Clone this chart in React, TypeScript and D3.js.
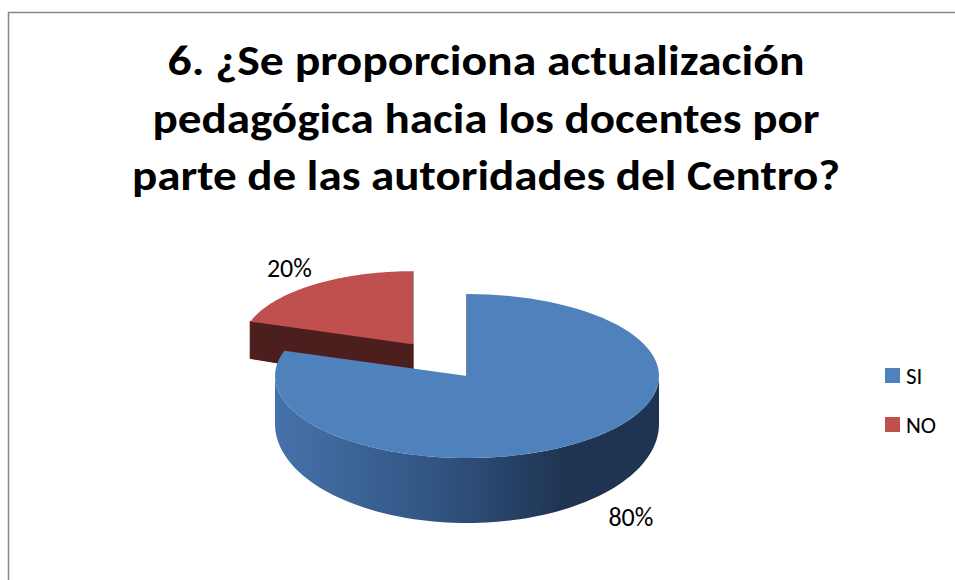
import * as d3 from "d3";

// chart data
const categories = ["SI", "NO"];
const values = [80, 20];
const valueLabels = ["80%", "20%"];
const topColors = ["#4f81bd", "#c0504d"];
const sideColors = ["#1f3452", "#4d1e1e"];
const titleLines = [
  "6. ¿Se proporciona actualización",
  "pedagógica hacia los docentes por",
  "parte de las autoridades del Centro?",
];

const W = 955;
const H = 580;
const FONT = "Carlito, Calibri, Lato, 'Open Sans', sans-serif";

// pie layout (screen ellipse)
const cx = 467;
const cy = 376;
const rx = 192;
const ry = 82;
const explode = [0, 0.48];
const sliceScale = [1, 0.89];
const depthAt = (sy: number) => 48 + (17 * (sy - cy)) / ry;
const labelOffset = [
  [51, 22],
  [-23, -8],
];

const titleY = [75, 132.5, 190];
const titleWidth = [637, 667, 708];
const titleX = 486;

export default function App() {
  const arcs = d3
    .pie<number>()
    .sort(null)
    .value((d) => d)(values);

  const line = d3.line<[number, number]>();

  const slices = arcs.map((a, i) => {
    const mid = (a.startAngle + a.endAngle) / 2;
    const ox = cx + rx * explode[i] * Math.sin(mid);
    const oy = cy - ry * explode[i] * Math.cos(mid);
    const srx = rx * sliceScale[i];
    const sry = ry * sliceScale[i];
    const pt = (t: number): [number, number] => [
      ox + srx * Math.sin(t),
      oy - sry * Math.cos(t),
    ];
    const down = (p: [number, number]): [number, number] => [
      p[0],
      p[1] + depthAt(p[1]),
    ];
    const n = 90;
    const arcPts = (t0: number, t1: number) =>
      d3.range(n + 1).map((k) => pt(t0 + ((t1 - t0) * k) / n));

    const top = line([[ox, oy], ...arcPts(a.startAngle, a.endAngle)]) + "Z";

    // outer side: only the front half is visible
    const s0 = Math.max(a.startAngle, Math.PI / 2);
    const s1 = Math.min(a.endAngle, (3 * Math.PI) / 2);
    let side: string | null = null;
    if (s1 > s0) {
      const upper = arcPts(s0, s1);
      const lower = upper.map(down).reverse();
      side = line([...upper, ...lower]) + "Z";
    }

    // radial faces
    const faces: string[] = [];
    const c: [number, number] = [ox, oy];
    if (-Math.sin(a.startAngle) > -1e-6) {
      const p = pt(a.startAngle);
      faces.push(line([c, p, down(p), down(c)]) + "Z");
    }
    if (Math.sin(a.endAngle) > -1e-6) {
      const p = pt(a.endAngle);
      faces.push(line([c, p, down(p), down(c)]) + "Z");
    }

    const lp = pt(mid);
    const anchor: [number, number] =
      Math.cos(mid) < 0 ? down(lp) : lp;

    return {
      i,
      top,
      side,
      faces,
      label: [anchor[0] + labelOffset[i][0], anchor[1] + labelOffset[i][1]],
    };
  });

  // back slice first, front slice last
  const order = [...slices].sort((a, b) => b.i - a.i);

  return (
    <svg
      width={W}
      height={H}
      style={{ position: "absolute", left: 0, top: 0, background: "#fff" }}
    >
      <defs>
        <linearGradient
          id="blueSide"
          gradientUnits="userSpaceOnUse"
          x1={cx - rx}
          x2={cx + rx}
          y1={0}
          y2={0}
        >
          <stop offset="0%" stopColor="#4672aa" />
          <stop offset="45%" stopColor="#30527f" />
          <stop offset="75%" stopColor="#1f3452" />
          <stop offset="100%" stopColor="#1f3452" />
        </linearGradient>
      </defs>

      <rect x={0} y={0} width={W} height={H} fill="#fff" />
      <rect
        x={8.5}
        y={12.5}
        width={W + 20}
        height={H + 20}
        fill="none"
        stroke="#878787"
        strokeWidth={1.5}
      />

      <g fontFamily={FONT} fontWeight="bold" fontSize={42} fill="#000">
        {titleLines.map((t, k) => (
          <text
            key={k}
            x={titleX}
            y={titleY[k]}
            textAnchor="middle"
            textLength={titleWidth[k]}
            lengthAdjust="spacingAndGlyphs"
          >
            {t}
          </text>
        ))}
      </g>

      {order.map((s) => (
        <g key={s.i}>
          {s.faces.map((f, k) => (
            <path
              key={k}
              d={f}
              fill={sideColors[s.i]}
              stroke={sideColors[s.i]}
              strokeWidth={1.2}
            />
          ))}
          {s.side && <path d={s.side} fill={s.i === 0 ? "url(#blueSide)" : sideColors[s.i]} />}
          <path d={s.top} fill={topColors[s.i]} />
        </g>
      ))}

      <g fontFamily={FONT} fontSize={26} fill="#000">
        {slices.map((s) => (
          <text key={s.i} x={s.label[0]} y={s.label[1]} textAnchor="middle">
            {valueLabels[s.i]}
          </text>
        ))}
      </g>

      <g fontFamily={FONT} fontSize={23} fill="#000">
        {categories.map((c, k) => (
          <g key={c} transform={`translate(885,${368 + k * 49})`}>
            <rect width={15} height={15} fill={topColors[k]} />
            <text x={21} y={15.5}>
              {c}
            </text>
          </g>
        ))}
      </g>
    </svg>
  );
}
